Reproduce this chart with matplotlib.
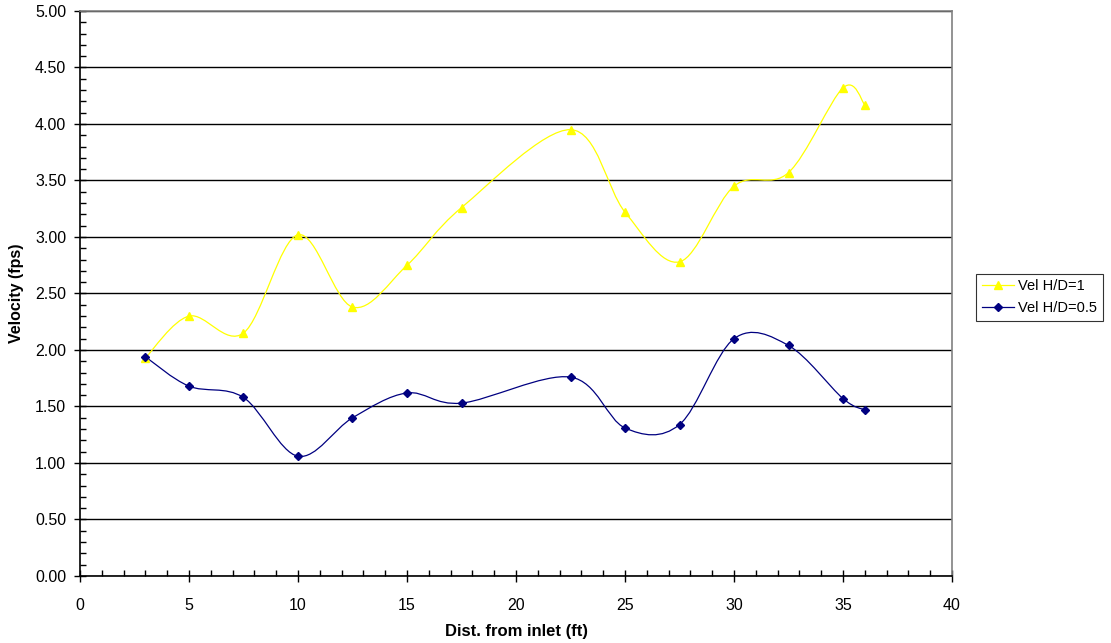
import numpy as np
import matplotlib
matplotlib.use("Agg")
import matplotlib.pyplot as plt
from matplotlib.path import Path
from matplotlib.patches import PathPatch
from matplotlib.lines import Line2D
from matplotlib.ticker import MultipleLocator, FormatStrFormatter

plt.rcParams['font.family'] = ['Liberation Sans', 'DejaVu Sans']

# data
dist = [3, 5, 7.5, 10, 12.5, 15, 17.5, 22.5, 25, 27.5, 30, 32.5, 35, 36]
vel_hd1 = [1.93, 2.30, 2.15, 3.02, 2.38, 2.75, 3.26, 3.95, 3.22, 2.78, 3.45, 3.57, 4.32, 4.17]
vel_hd05 = [1.94, 1.68, 1.58, 1.06, 1.40, 1.62, 1.53, 1.76, 1.31, 1.34, 2.10, 2.04, 1.57, 1.47]
series_names = ["Vel H/D=1", "Vel H/D=0.5"]


def smooth_path(x, y):
    # Excel style smoothed line: cubic bezier through every point
    p = np.column_stack([x, y]).astype(float)
    n = len(p)
    verts = [p[0]]
    codes = [Path.MOVETO]
    for i in range(n - 1):
        prev = p[i - 1] if i > 0 else p[i]
        nxt = p[i + 2] if i + 2 < n else p[i + 1]
        c1 = p[i] + (p[i + 1] - prev) / 6.0
        c2 = p[i + 1] - (nxt - p[i]) / 6.0
        verts += [c1, c2, p[i + 1]]
        codes += [Path.CURVE4] * 3
    return Path(verts, codes)


fig = plt.figure(figsize=(11.11, 6.43), dpi=100)
ax = fig.add_axes([0.072, 0.1042, 0.7849, 0.8787])

yellow = "#FFFF00"
navy = "#000080"

for ys, col, mk, ms in [(vel_hd1, yellow, "^", 5.5), (vel_hd05, navy, "D", 4.5)]:
    ax.add_patch(PathPatch(smooth_path(dist, ys), fill=False, edgecolor=col, lw=0.9, zorder=3))
    ax.plot(dist, ys, linestyle="none", marker=mk, ms=ms, color=col, zorder=4)

ax.set_xlim(0, 40)
ax.set_ylim(0, 5)
ax.xaxis.set_major_locator(MultipleLocator(5))
ax.xaxis.set_minor_locator(MultipleLocator(1))
ax.yaxis.set_major_locator(MultipleLocator(0.5))
ax.yaxis.set_minor_locator(MultipleLocator(0.1))
ax.yaxis.set_major_formatter(FormatStrFormatter("%.2f"))

ax.grid(axis="y", which="major", color="black", lw=1)
ax.set_axisbelow(True)
ax.tick_params(which="major", direction="inout", length=8, width=1, labelsize=11.5)
ax.tick_params(axis="x", which="major", pad=12)
ax.tick_params(axis="y", which="major", pad=6)
ax.tick_params(which="minor", direction="in", length=4, width=1)

for s in ["left", "bottom"]:
    ax.spines[s].set_color("black")
    ax.spines[s].set_linewidth(1.2)
for s in ["top", "right"]:
    ax.spines[s].set_color("#808080")
    ax.spines[s].set_linewidth(1.2)

ax.set_xlabel("Dist. from inlet (ft)", fontsize=12, fontweight="bold", labelpad=8)
ax.set_ylabel("Velocity (fps)", fontsize=11.5, fontweight="bold", labelpad=8)

handles = [
    Line2D([], [], color=yellow, marker="^", ms=5.5, lw=0.9),
    Line2D([], [], color=navy, marker="D", ms=4.5, lw=0.9),
]
leg = fig.legend(handles, series_names, loc="center left", bbox_to_anchor=(0.872, 0.538),
                 fontsize=10.5, frameon=True, fancybox=False, handlelength=2.2,
                 handletextpad=0.3, borderpad=0.4, labelspacing=0.5)
leg.get_frame().set_edgecolor("black")
leg.get_frame().set_linewidth(0.8)

fig.savefig("out.png", dpi=100)
